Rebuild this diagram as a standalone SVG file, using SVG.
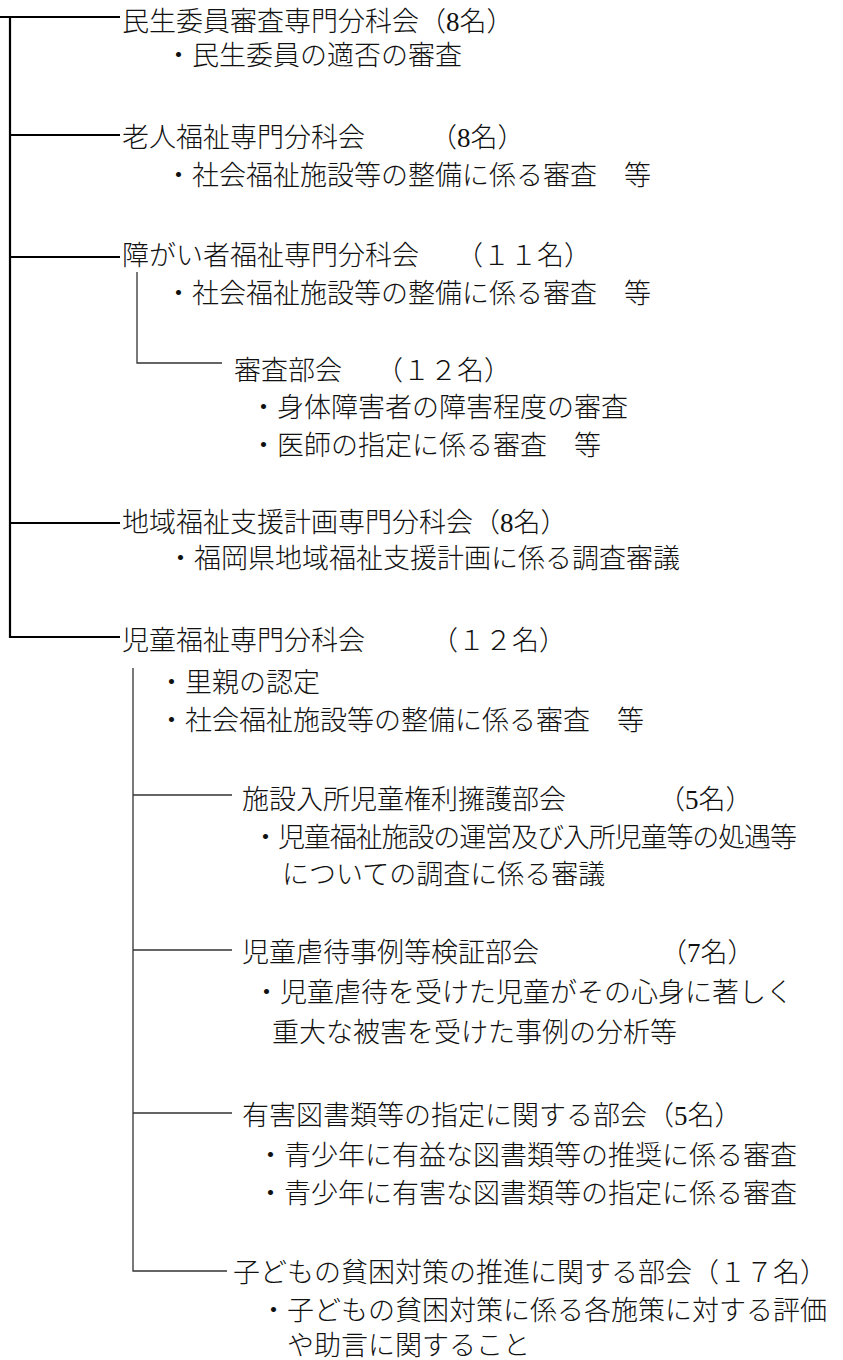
<svg xmlns="http://www.w3.org/2000/svg" width="843" height="1360" viewBox="0 0 843 1360">
<style>
text{font-family:"Liberation Serif","Noto Sans CJK JP",serif;font-size:27px;fill:#111;font-weight:300}
.main{stroke:#000;stroke-width:2.2;fill:none}
.sub{stroke:#333;stroke-width:1.3;fill:none}
</style>
<rect width="843" height="1360" fill="#fff"/>
<g id="connectors">
<path class="main" d="M0 17H120M10 17V638M10 135H120M10 257H120M10 523H120M10 637H120"/>
<path class="sub" d="M137 272V363H222"/>
<path class="sub" d="M133 668V1271H227M133 795H232M133 950H232M133 1113H232"/>
</g>
<g id="minsei">
<text x="122" y="31">民生委員審査専門分科会（8名）</text>
<text x="165" y="65">・民生委員の適否の審査</text>
</g>
<g id="roujin">
<text x="122" y="147">老人福祉専門分科会<tspan x="430">（8名）</tspan></text>
<text x="165" y="185">・社会福祉施設等の整備に係る審査　等</text>
</g>
<g id="shougai">
<text x="122" y="265">障がい者福祉専門分科会<tspan x="456">（１１名）</tspan></text>
<text x="165" y="303">・社会福祉施設等の整備に係る審査　等</text>
</g>
<g id="shinsa">
<text x="234" y="380">審査部会<tspan x="376">（１２名）</tspan></text>
<text x="250" y="417">・身体障害者の障害程度の審査</text>
<text x="250" y="455">・医師の指定に係る審査　等</text>
</g>
<g id="chiiki">
<text x="122" y="532">地域福祉支援計画専門分科会（8名）</text>
<text x="167" y="568">・福岡県地域福祉支援計画に係る調査審議</text>
</g>
<g id="jidou">
<text x="122" y="650">児童福祉専門分科会<tspan x="431">（１２名）</tspan></text>
<text x="158" y="692">・里親の認定</text>
<text x="158" y="730">・社会福祉施設等の整備に係る審査　等</text>
</g>
<g id="shisetsu">
<text x="242" y="809">施設入所児童権利擁護部会<tspan x="658">（5名）</tspan></text>
<text x="252" y="847" letter-spacing="-1.1">・児童福祉施設の運営及び入所児童等の処遇等</text>
<text x="282" y="884">についての調査に係る審議</text>
</g>
<g id="gyakutai">
<text x="242" y="962">児童虐待事例等検証部会<tspan x="660">（7名）</tspan></text>
<text x="253" y="1002">・児童虐待を受けた児童がその心身に著しく</text>
<text x="272" y="1042">重大な被害を受けた事例の分析等</text>
</g>
<g id="yugai">
<text x="242" y="1125">有害図書類等の指定に関する部会（5名）</text>
<text x="257" y="1165">・青少年に有益な図書類等の推奨に係る審査</text>
<text x="257" y="1203">・青少年に有害な図書類等の指定に係る審査</text>
</g>
<g id="hinkon">
<text x="233" y="1282">子どもの貧困対策の推進に関する部会（１７名）</text>
<text x="260" y="1320">・子どもの貧困対策に係る各施策に対する評価</text>
<text x="287" y="1355">や助言に関すること</text>
</g>
</svg>
